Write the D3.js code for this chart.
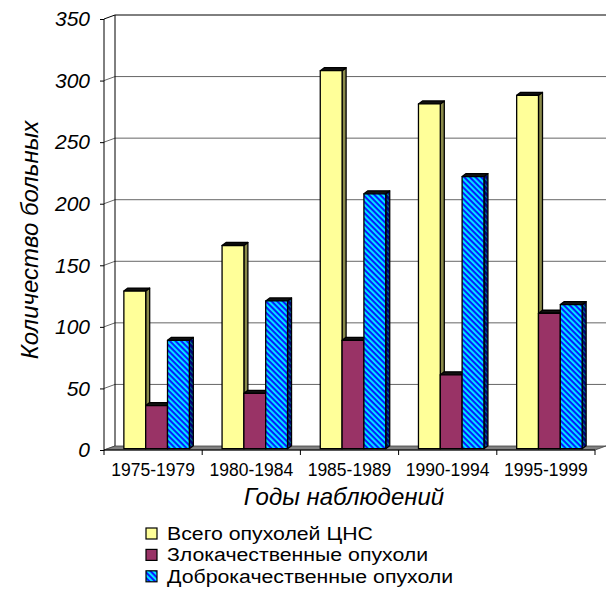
<!DOCTYPE html>
<html>
<head>
<meta charset="utf-8">
<script src="https://cdn.jsdelivr.net/npm/d3@7"></script>
<style>
  body { margin: 0; background: #fff; }
  svg text { font-family: "Liberation Sans", Arial, sans-serif; }
</style>
</head>
<body>
<div class="container"></div>
<script>
const WIDTH = 607;
const HEIGHT = 590;

// depth of the 3D box and of each bar
const DX = 11, DY = -4;
const BDX = 4, BDY = -3;

var categories = ['1975-1979', '1980-1984', '1985-1989', '1990-1994', '1995-1999'];
var seriesNames = ['Всего опухолей ЦНС', 'Злокачественные опухоли', 'Доброкачественные опухоли'];
var totalValues = [128, 165, 307, 280, 287];
var malignantValues = [35, 45, 88, 60, 110];
var benignValues = [88, 120, 207, 221, 117];
var yTicks = [0, 50, 100, 150, 200, 250, 300, 350];

var seriesValues = [totalValues, malignantValues, benignValues];
var frontColors = ['#ffff99', '#993366', 'url(#stripes)'];
var sideColors = ['#8a8a4a', '#4d1933', 'url(#stripesDark)'];

var translate = function(x, y) {
    return `translate(${x},${y})`;
};

var draw = function() {
    var svg = d3.select('.container').append('svg')
        .attr('width', WIDTH)
        .attr('height', HEIGHT);

    var defs = svg.append('defs');
    var p = defs.append('pattern')
        .attr('id', 'stripes')
        .attr('patternUnits', 'userSpaceOnUse')
        .attr('width', 4).attr('height', 4)
        .attr('patternTransform', 'rotate(-45)');
    p.append('rect').attr('width', 4).attr('height', 4).attr('fill', '#0a1cff');
    p.append('rect').attr('width', 1.9).attr('height', 4).attr('fill', '#00f0ff');
    var pd = defs.append('pattern')
        .attr('id', 'stripesDark')
        .attr('patternUnits', 'userSpaceOnUse')
        .attr('width', 4).attr('height', 4)
        .attr('patternTransform', 'rotate(-45)');
    pd.append('rect').attr('width', 4).attr('height', 4).attr('fill', '#00007a');
    pd.append('rect').attr('width', 1.2).attr('height', 4).attr('fill', '#007a8a');

    var xScale = d3.scaleBand()
        .domain(categories)
        .range([104, 595]);

    var innerScale = d3.scaleBand()
        .domain(d3.range(seriesNames.length))
        .range([0, xScale.bandwidth()])
        .paddingInner(0)
        .paddingOuter(0.75);

    var yScale = d3.scaleLinear()
        .domain([0, 350])
        .range([450, 19]);

    var x0 = xScale.range()[0], x1 = xScale.range()[1];

    // back wall grid lines and left wall diagonals
    var grid = svg.append('g');
    yTicks.forEach(function(t) {
        var y = yScale(t);
        var col = t === 350 ? '#000' : '#666';
        if (t > 0) {
            grid.append('line')
                .attr('x1', x0 + DX).attr('x2', x1 + DX)
                .attr('y1', y + DY).attr('y2', y + DY)
                .attr('stroke', col).attr('stroke-width', 1);
        }
        grid.append('line')
            .attr('x1', x0).attr('y1', y)
            .attr('x2', x0 + DX).attr('y2', y + DY)
            .attr('stroke', col).attr('stroke-width', 1);
    });
    grid.append('line')
        .attr('x1', x0 + DX).attr('x2', x0 + DX)
        .attr('y1', yScale(350) + DY).attr('y2', yScale(0) + DY)
        .attr('stroke', '#000');

    // floor
    svg.append('polygon')
        .attr('points', [[x0, yScale(0)], [x1, yScale(0)], [x1 + DX, yScale(0) + DY], [x0 + DX, yScale(0) + DY]].join(' '))
        .attr('fill', '#808080')
        .attr('stroke', '#404040')
        .attr('stroke-width', 0.8);

    // bars
    var bars = svg.append('g');
    categories.forEach(function(c, ci) {
        seriesValues.forEach(function(vals, si) {
            var bx = xScale(c) + innerScale(si) + 3.5;
            var bw = innerScale.bandwidth();
            var by = yScale(vals[ci]) - 1.3;
            var bb = yScale(0) - 1.3;
            var g = bars.append('g').attr('stroke', '#000').attr('stroke-width', 1.3).attr('stroke-linejoin', 'round');
            // side face
            g.append('polygon')
                .attr('points', [[bx + bw, bb], [bx + bw + BDX, bb + BDY], [bx + bw + BDX, by + BDY], [bx + bw, by]].join(' '))
                .attr('fill', sideColors[si]);
            // top face
            g.append('polygon')
                .attr('points', [[bx, by], [bx + BDX, by + BDY], [bx + bw + BDX, by + BDY], [bx + bw, by]].join(' '))
                .attr('fill', '#111');
            // front face
            g.append('rect')
                .attr('x', bx).attr('y', by)
                .attr('width', bw).attr('height', bb - by)
                .attr('fill', frontColors[si]);
        });
    });

    // value axis
    svg.append('line')
        .attr('x1', x0).attr('x2', x0)
        .attr('y1', yScale(350)).attr('y2', yScale(0))
        .attr('stroke', '#000');

    var yAxis = d3.axisLeft(yScale)
        .tickValues(yTicks)
        .tickSize(4)
        .tickPadding(10)
        .tickFormat(d3.format('d'));
    var ya = svg.append('g')
        .attr('transform', translate(x0, 0))
        .call(yAxis);
    ya.select('.domain').remove();
    ya.selectAll('text')
        .attr('font-size', 21)
        .attr('font-style', 'italic')
        .attr('font-family', '"Liberation Sans", Arial, sans-serif')
        .attr('fill', '#000');

    // category axis
    svg.append('line')
        .attr('x1', x0).attr('x2', x1)
        .attr('y1', yScale(0)).attr('y2', yScale(0))
        .attr('stroke', '#000');
    var xAxis = d3.axisBottom(xScale).tickSize(0).tickPadding(14);
    var xa = svg.append('g')
        .attr('transform', translate(0, yScale(0)))
        .call(xAxis);
    xa.select('.domain').remove();
    xa.selectAll('text')
        .attr('font-size', 17.5)
        .attr('font-family', '"Liberation Sans", Arial, sans-serif')
        .attr('fill', '#000');
    var bounds = categories.map(function(c) { return xScale(c); }).concat([x1]);
    bounds.forEach(function(b) {
        svg.append('line')
            .attr('x1', b).attr('x2', b)
            .attr('y1', yScale(0)).attr('y2', yScale(0) + 5)
            .attr('stroke', '#000');
    });

    // axis titles
    svg.append('text')
        .attr('x', 344).attr('y', 505)
        .attr('text-anchor', 'middle')
        .attr('font-size', 24)
        .attr('font-style', 'italic')
        .text('Годы наблюдений');

    svg.append('text')
        .attr('transform', translate(38, 240) + ' rotate(-90)')
        .attr('text-anchor', 'middle')
        .attr('font-size', 24)
        .attr('font-style', 'italic')
        .text('Количество больных');

    // legend
    var legend = svg.append('g').attr('transform', translate(146, 528));
    seriesNames.forEach(function(name, i) {
        var row = legend.append('g').attr('transform', translate(0, i * 21.4));
        row.append('rect')
            .attr('width', 11).attr('height', 11)
            .attr('fill', frontColors[i])
            .attr('stroke', '#000').attr('stroke-width', 1.2);
        row.append('text')
            .attr('transform', translate(21, 12) + ' scale(1.12,1)')
            .attr('font-size', 19)
            .text(name);
    });
};
window.onload = draw;
</script>
</body>
</html>
